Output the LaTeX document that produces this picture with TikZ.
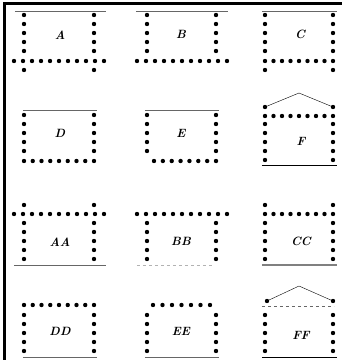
\documentclass[tikz,border=0pt]{standalone}
\begin{document}
\begin{tikzpicture}[x=1pt,y=-1pt,
    rule/.style={gray!80!black, line width=0.8pt},
    lbl/.style={font=\large\bfseries\itshape}]
    \useasboundingbox (0,0) rectangle (342,360);

    %frame
    \draw[line width=2.5pt] (4.5,360) -- (4.5,3.5) -- (342,3.5);

    %A
    \draw[rule] (15,11) -- (106,11);
    \foreach \x in {24,94} {
        \foreach \y in {15,24,...,51} \fill (\x,\y) circle (2.2pt);
        \fill (\x,70) circle (2.2pt);
    }
    \foreach \x in {14,23,...,104} \fill (\x,61) circle (2.2pt);
    \node[lbl] (a) at (60,35) {A};

    %B
    \draw[rule] (136,11) -- (228,11);
    \foreach \x in {147,216}
        \foreach \y in {15,24,...,51} \fill (\x,\y) circle (2.2pt);
    \foreach \x in {137,146,...,227} \fill (\x,61) circle (2.2pt);
    \node[lbl] (b) at (181,34) {B};

    %C
    \draw[rule] (262,11) -- (337,11);
    \foreach \x in {265,333} {
        \foreach \y in {15,24,...,51} \fill (\x,\y) circle (2.2pt);
        \fill (\x,70) circle (2.2pt);
    }
    \foreach \i in {0,...,8} \fill ({265+8.5*\i},61) circle (2.2pt);
    \node[lbl] (c) at (300,34) {C};

    %D
    \draw[rule] (23,110) -- (97,110);
    \foreach \x in {24,94}
        \foreach \y in {115,124,...,151} \fill (\x,\y) circle (2.2pt);
    \foreach \i in {0,...,8} \fill ({24+8.75*\i},161) circle (2.2pt);
    \node[lbl] (d) at (60,133) {D};

    %E
    \draw[rule] (145,110) -- (219,110);
    \foreach \x in {147,216}
        \foreach \y in {115,124,...,151} \fill (\x,\y) circle (2.2pt);
    \foreach \i in {0,...,7} \fill ({154+8.86*\i},161) circle (2.2pt);
    \node[lbl] (e) at (181,133) {E};

    %F
    \draw (265,107) -- (299,93) -- (333,107);
    \fill (265,107) circle (2.2pt) (333,107) circle (2.2pt);
    \foreach \i in {0,...,8} \fill ({265+8.5*\i},116) circle (2.2pt);
    \foreach \x in {265,333}
        \foreach \y in {124,133,...,160} \fill (\x,\y) circle (2.2pt);
    \draw[rule, black] (262,165) -- (337,165);
    \node[lbl] (f) at (301,141) {F};

    %AA
    \fill (24,205) circle (2.2pt) (94,205) circle (2.2pt);
    \foreach \x in {14,23,...,104} \fill (\x,214) circle (2.2pt);
    \foreach \x in {24,94}
        \foreach \y in {223,232,...,259} \fill (\x,\y) circle (2.2pt);
    \draw[rule] (14,265) -- (106,265);
    \node[lbl] (aa) at (60,242) {AA};

    %BB
    \foreach \x in {137,146,...,227} \fill (\x,214) circle (2.2pt);
    \foreach \x in {147,216}
        \foreach \y in {223,232,...,259} \fill (\x,\y) circle (2.2pt);
    \draw[rule, gray!60, dashed] (137,265) -- (213,265);
    \node[lbl] (bb) at (181,241) {BB};

    %CC
    \fill (265,205) circle (2.2pt) (333,205) circle (2.2pt);
    \foreach \i in {0,...,8} \fill ({265+8.5*\i},214) circle (2.2pt);
    \foreach \x in {265,333}
        \foreach \y in {223,232,...,259} \fill (\x,\y) circle (2.2pt);
    \draw[rule, gray, line width=1.5pt] (262,265) -- (337,265);
    \node[lbl] (cc) at (301,241) {CC};

    %DD
    \foreach \i in {0,...,8} \fill ({24+8.75*\i},305) circle (2.2pt);
    \foreach \x in {24,94}
        \foreach \y in {315,324,...,351} \fill (\x,\y) circle (2.2pt);
    \draw[rule] (23,357) -- (97,357);
    \node[lbl] (dd) at (60,331) {DD};

    %EE
    \foreach \i in {0,...,6} \fill ({153+9.5*\i},305) circle (2.2pt);
    \foreach \x in {147,216}
        \foreach \y in {315,324,...,351} \fill (\x,\y) circle (2.2pt);
    \draw[rule] (145,357) -- (219,357);
    \node[lbl] (ee) at (181,331) {EE};

    %FF
    \draw (267,301) -- (299,286) -- (333,301);
    \fill (267,301) circle (2.2pt) (333,301) circle (2.2pt);
    \draw[rule, dashed] (262,306) -- (334,306);
    \foreach \x in {265,333}
        \foreach \y in {315,324,...,351} \fill (\x,\y) circle (2.2pt);
    \draw[rule, black] (262,357) -- (337,357);
    \node[lbl] (ff) at (301,335) {FF};
\end{tikzpicture}
\end{document}
